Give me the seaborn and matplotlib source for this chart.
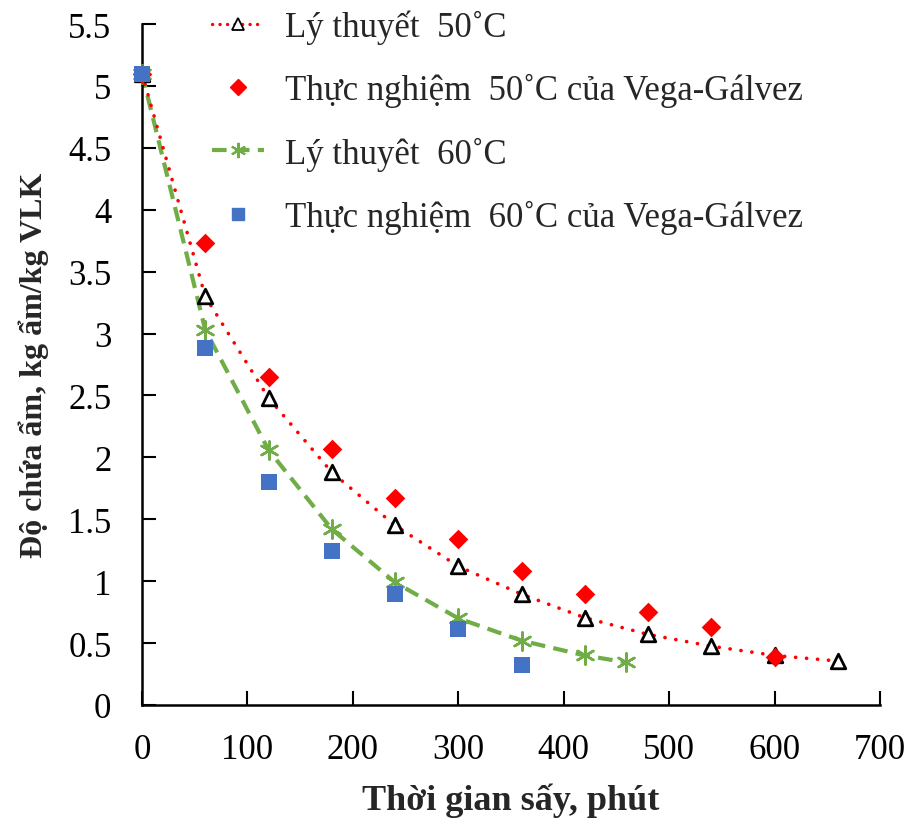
import matplotlib
matplotlib.use("Agg")
import matplotlib.pyplot as plt
import seaborn as sns
import pandas as pd
from matplotlib.lines import Line2D

# ---- data ----
t_lt50 = [0, 60, 120, 180, 240, 300, 360, 420, 480, 540, 600, 660]
m_lt50 = [5.10, 3.30, 2.48, 1.88, 1.45, 1.12, 0.895, 0.705, 0.57, 0.475, 0.40, 0.355]

t_tn50 = [0, 60, 120, 180, 240, 300, 360, 420, 480, 540, 600]
m_tn50 = [5.10, 3.73, 2.65, 2.07, 1.67, 1.34, 1.08, 0.90, 0.75, 0.63, 0.39]

t_lt60 = [0, 60, 120, 180, 240, 300, 360, 420, 459]
m_lt60 = [5.10, 3.03, 2.06, 1.42, 0.99, 0.70, 0.52, 0.40, 0.345]

t_tn60 = [0, 60, 120, 180, 240, 300, 360]
m_tn60 = [5.10, 2.885, 1.80, 1.24, 0.895, 0.61, 0.32]

labels = ["Lý thuyết  50˚C",
          "Thực nghiệm  50˚C của Vega-Gálvez",
          "Lý thuyêt  60˚C",
          "Thực nghiệm  60˚C của Vega-Gálvez"]
xticks = [0, 100, 200, 300, 400, 500, 600, 700]
yticks = [0, 0.5, 1, 1.5, 2, 2.5, 3, 3.5, 4, 4.5, 5, 5.5]
ytick_labels = ["0", "0.5", "1", "1.5", "2", "2.5", "3", "3.5", "4", "4.5", "5", "5.5"]
xlabel = "Thời gian sấy, phút"
ylabel = "Độ chứa ẩm, kg ẩm/kg VLK"

# ---- style ----
sns.set_theme(style="white")
plt.rcParams["font.family"] = ["Liberation Serif", "DejaVu Serif"]

RED = "#FF0000"
GREEN = "#70AD47"
BLUE = "#4472C4"
RED_DOTS = (0, (0.05, 3.0))
GREEN_DASH = (0, (3.5, 2.0))

fig = plt.figure(figsize=(9.12, 8.2), dpi=100)
ax = fig.add_axes([142 / 912, 114 / 820, (880 - 142) / 912, (706 - 25) / 820])

df_lt50 = pd.DataFrame({"t": t_lt50, "m": m_lt50})
df_tn50 = pd.DataFrame({"t": t_tn50, "m": m_tn50})
df_lt60 = pd.DataFrame({"t": t_lt60, "m": m_lt60})
df_tn60 = pd.DataFrame({"t": t_tn60, "m": m_tn60})

# theory 60 (green dashed with asterisks)
sns.lineplot(data=df_lt60, x="t", y="m", ax=ax, sort=False, color=GREEN,
             linewidth=3.0, linestyle=GREEN_DASH, zorder=2)
sns.scatterplot(data=df_lt60, x="t", y="m", ax=ax, marker=(6, 2, 0), s=170,
                color=GREEN, edgecolor=GREEN, linewidth=1.8, zorder=3, clip_on=False)

# theory 50 (red dotted with open triangles)
sns.lineplot(data=df_lt50, x="t", y="m", ax=ax, sort=False, color=RED,
             linewidth=2.6, linestyle=RED_DOTS, dash_capstyle="round", zorder=2)
sns.scatterplot(data=df_lt50, x="t", y="m", ax=ax, marker="^", s=110,
                facecolor="white", edgecolor="black", linewidth=2.0, zorder=4, clip_on=False)

# experiments
sns.scatterplot(data=df_tn50, x="t", y="m", ax=ax, marker="D", s=100,
                color=RED, edgecolor=RED, linewidth=0, zorder=5, clip_on=False)
sns.scatterplot(data=df_tn60, x="t", y="m", ax=ax, marker="s", s=120,
                color=BLUE, edgecolor=BLUE, linewidth=0, zorder=6, clip_on=False)

ax.set_xlim(0, 700)
ax.set_ylim(0, 5.5)
ax.set_xticks(xticks)
ax.set_xticklabels([str(v) for v in xticks])
ax.set_yticks(yticks)
ax.set_yticklabels(ytick_labels)
ax.tick_params(axis="both", direction="in", length=10, width=1.5, colors="black",
               labelsize=25, bottom=True, left=True)
ax.tick_params(axis="y", pad=22)
ax.tick_params(axis="x", pad=20)
for s in ["top", "right"]:
    ax.spines[s].set_visible(False)
for s in ["left", "bottom"]:
    ax.spines[s].set_color("black")
    ax.spines[s].set_linewidth(1.8)
ax.grid(False)

ax.set_xlabel(xlabel, fontsize=26, fontweight="bold", labelpad=12)
ax.set_ylabel(ylabel, fontsize=23, fontweight="bold", labelpad=14)

handles = [
    Line2D([], [], color=RED, linewidth=2.4, linestyle=(0, (0.05, 2.2)), dash_capstyle="round",
           marker="^", markersize=8, markerfacecolor="white", markeredgecolor="black",
           markeredgewidth=1.3),
    Line2D([], [], linestyle="none", marker="D", markersize=8, color=RED),
    Line2D([], [], color=GREEN, linewidth=3.0, linestyle=GREEN_DASH,
           marker=(6, 2, 0), markersize=11, markeredgewidth=1.5),
    Line2D([], [], linestyle="none", marker="s", markersize=9, color=BLUE),
]
leg = ax.legend(handles, labels, loc="upper left", bbox_to_anchor=(0.052, 1.067),
                frameon=False, fontsize=25, handlelength=1.5, handletextpad=0.6,
                labelspacing=0.84)

fig.savefig("out.png", dpi=100)
